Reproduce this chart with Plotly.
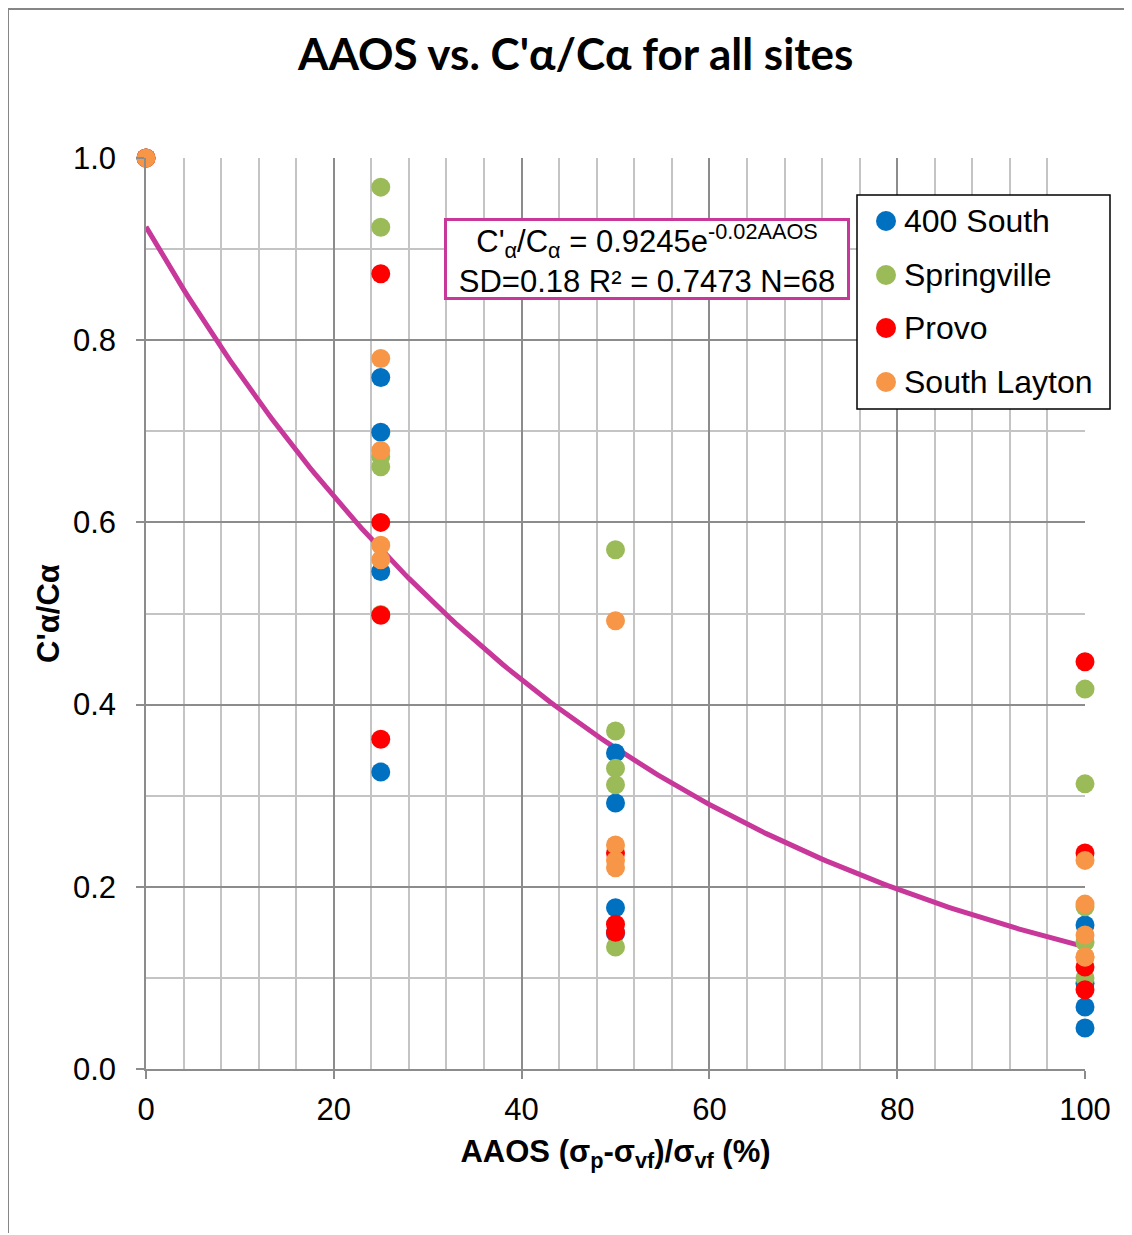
import numpy as np
import plotly.graph_objects as go

# ---- data ----
series_names = ["400 South", "Springville", "Provo", "South Layton"]
series_colors = ["#0070C0", "#9BBB59", "#FF0000", "#F79646"]

s400_x = [0, 25, 25, 25, 25, 50, 50, 50, 50, 100, 100, 100, 100]
s400_y = [1.0, 0.759, 0.699, 0.546, 0.326, 0.347, 0.292, 0.177, 0.149, 0.158, 0.094, 0.068, 0.045]

spr_x = [0, 25, 25, 25, 25, 25, 50, 50, 50, 50, 50, 100, 100, 100, 100, 100]
spr_y = [1.0, 0.968, 0.924, 0.672, 0.661, 0.499, 0.570, 0.371, 0.330, 0.312, 0.134, 0.417, 0.313, 0.178, 0.139, 0.100]

pro_x = [0, 25, 25, 25, 25, 50, 50, 50, 100, 100, 100, 100]
pro_y = [1.0, 0.873, 0.600, 0.498, 0.362, 0.237, 0.159, 0.150, 0.447, 0.237, 0.112, 0.087]

sl_x = [0, 25, 25, 25, 25, 50, 50, 50, 50, 100, 100, 100, 100, 100]
sl_y = [1.0, 0.780, 0.679, 0.575, 0.559, 0.492, 0.246, 0.229, 0.221, 0.229, 0.181, 0.147, 0.123, 0.123]

# exponential trendline drawn on the chart: C'a/Ca = A * exp(B * AAOS)
# (label shows rounded -0.02; drawn curve corresponds to about -0.0193)
trend_A = 0.9245
trend_B = -0.0193

x_ticks = [0, 20, 40, 60, 80, 100]
y_ticks = [0.0, 0.2, 0.4, 0.6, 0.8, 1.0]
y_tick_text = ["0.0", "0.2", "0.4", "0.6", "0.8", "1.0"]

fig = go.Figure()

xs = np.linspace(0, 100, 201)
fig.add_trace(go.Scatter(
    x=xs, y=trend_A * np.exp(trend_B * xs), mode="lines",
    line=dict(color="#C8379A", width=5), showlegend=False, hoverinfo="skip"))

for name, color, x, y in zip(series_names, series_colors,
                              [s400_x, spr_x, pro_x, sl_x],
                              [s400_y, spr_y, pro_y, sl_y]):
    fig.add_trace(go.Scatter(
        x=x, y=y, mode="markers", name=name, showlegend=False,
        marker=dict(color=color, size=19, line=dict(width=0)),
        cliponaxis=False))

grid_major = "#8C8C8C"
grid_minor = "#C4C4C4"
FONT = "Liberation Sans, Arial"
tickfont = dict(family=FONT, size=31, color="black")

# page body has an 8px margin, so the figure is offset by 8px
W, H = 1124, 1227
ML, MT, PW, PH = 138, 150, 939, 911


def px(sx):  # screen x -> paper x
    return (sx - 146) / PW


def py(sy):  # screen y -> paper y
    return (1069 - sy) / PH


fig.update_layout(
    width=W, height=H,
    margin=dict(l=ML, r=W - ML - PW, t=MT, b=H - MT - PH),
    paper_bgcolor="white", plot_bgcolor="white",
    showlegend=False,
    title=dict(text="<b>AAOS vs. C'α/Cα for all sites</b>",
               x=0.505, xanchor="center", y=(H - 47) / H, yanchor="middle",
               font=dict(family="Lato, Open Sans", size=44, color="black")),
    xaxis=dict(range=[0, 100], tickvals=x_ticks, ticks="outside", ticklen=8,
               tickcolor=grid_major, tickwidth=1.5, ticklabelstandoff=4,
               showgrid=True, gridcolor=grid_major, gridwidth=1.5,
               showline=True, linecolor=grid_major, linewidth=1.5,
               minor=dict(dtick=4, showgrid=True, gridcolor=grid_minor, gridwidth=1.5),
               zeroline=False, tickfont=tickfont,
               title=dict(text="<b>AAOS (σ<sub>p</sub>-σ<sub>vf</sub>)/σ<sub>vf</sub> (%)</b>",
                          font=dict(family=FONT, size=31, color="black"),
                          standoff=14)),
    yaxis=dict(range=[0, 1.0], tickvals=y_ticks, ticktext=y_tick_text,
               ticks="outside", ticklen=8, tickcolor=grid_major, tickwidth=1.5,
               ticklabelstandoff=14,
               showgrid=True, gridcolor=grid_major, gridwidth=1.5,
               showline=True, linecolor=grid_major, linewidth=1.5,
               minor=dict(dtick=0.1, showgrid=True, gridcolor=grid_minor, gridwidth=1.5),
               zeroline=False, tickfont=tickfont,
               title=dict(text="<b>C'α/Cα</b>",
                          font=dict(family=FONT, size=31, color="black"),
                          standoff=4)),
)

# legend (box, symbols and labels)
fig.add_shape(type="rect", xref="paper", yref="paper",
              x0=px(857), x1=px(1110), y0=py(409), y1=py(195),
              fillcolor="white", line=dict(color="black", width=1.5), layer="above")
legend_rows = [221, 275, 328, 382]
for name, color, ry in zip(series_names, series_colors, legend_rows):
    fig.add_shape(type="circle", xref="paper", yref="paper",
                  xsizemode="pixel", ysizemode="pixel",
                  xanchor=px(886), yanchor=py(ry),
                  x0=-10, x1=10, y0=-10, y1=10,
                  fillcolor=color, line=dict(width=0), layer="above")
    fig.add_annotation(xref="paper", yref="paper", x=px(902), y=py(ry),
                       xanchor="left", yanchor="middle", showarrow=False,
                       text=name, font=dict(family=FONT, size=32, color="black"))

# equation box
fig.add_annotation(
    xref="paper", yref="paper", x=px(647), y=py(258.5),
    xanchor="center", yanchor="middle",
    text="C'<sub>α</sub>/C<sub>α</sub> = 0.9245e<sup>-0.02AAOS</sup><br>SD=0.18 R² = 0.7473 N=68",
    showarrow=False, align="center", width=398, height=74,
    font=dict(family=FONT, size=31, color="black"),
    bgcolor="white", bordercolor="#C8379A", borderwidth=3, borderpad=1)

# outer chart border (left and top edges visible)
bx = (0 - ML) / PW
by_top = (MT + PH - 1) / PH
by_bot = (MT + PH - (H - 2)) / PH
fig.add_shape(type="line", xref="paper", yref="paper",
              x0=bx, x1=bx, y0=by_bot, y1=by_top,
              line=dict(color="#868686", width=2))
fig.add_shape(type="line", xref="paper", yref="paper",
              x0=bx, x1=(W - ML) / PW, y0=by_top, y1=by_top,
              line=dict(color="#868686", width=2))

fig.write_html("out.html")
